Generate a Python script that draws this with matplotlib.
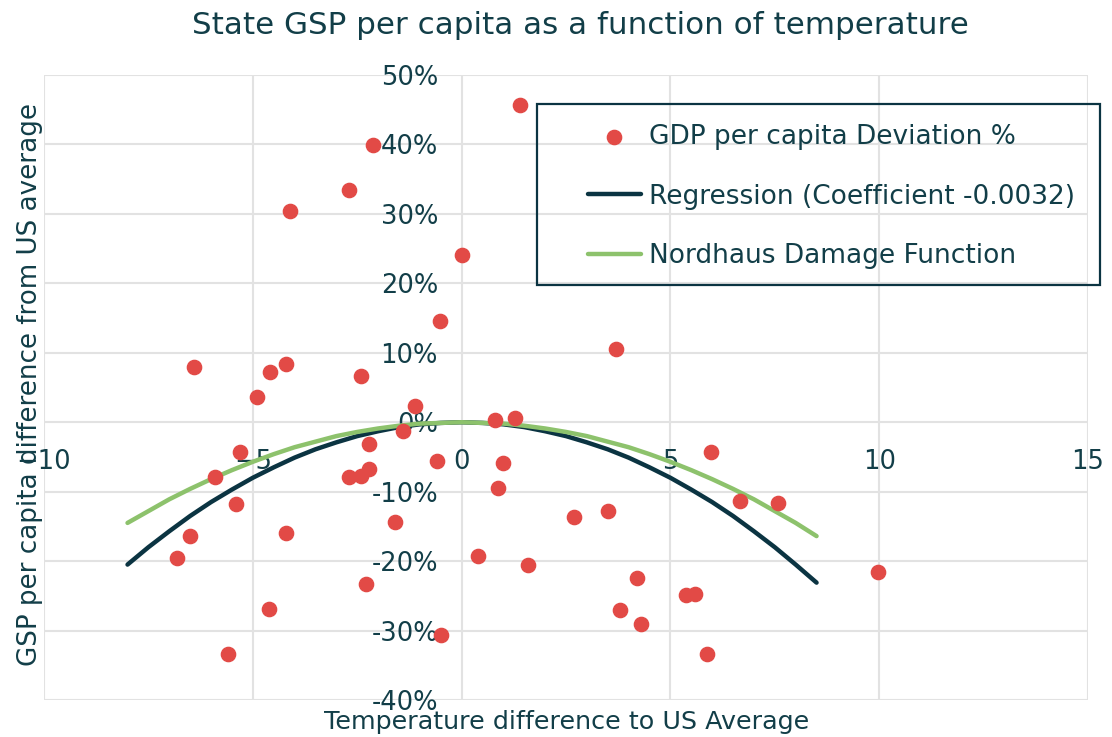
import matplotlib
matplotlib.use("Agg")
import matplotlib.pyplot as plt
from matplotlib.patches import Rectangle
from matplotlib.ticker import FuncFormatter

# state temperature difference vs GSP per capita deviation
temp_diff = [1.40, -2.12, -2.69, -4.10, 0.00, -0.52, 3.69, -6.40, -4.21, -4.60,
             -2.40, -4.90, -1.12, 0.79, 1.29, -1.40, -2.21, -5.31, 5.98, -0.60,
             0.98, -2.21, -5.90, -2.40, -2.69, 0.88, 6.67, 7.57, -5.40, 2.69,
             3.50, -1.60, -4.21, -6.50, -6.81, 0.40, 1.60, 9.98, 4.19, -2.29,
             5.38, 5.60, -4.62, 3.79, 4.29, -0.50, -5.60, 5.88]
gsp_dev = [0.457, 0.399, 0.334, 0.304, 0.241, 0.146, 0.105, 0.079, 0.084, 0.072,
           0.066, 0.036, 0.023, 0.003, 0.006, -0.012, -0.032, -0.043, -0.043, -0.056,
           -0.058, -0.068, -0.079, -0.078, -0.079, -0.094, -0.114, -0.117, -0.118, -0.137,
           -0.128, -0.144, -0.160, -0.164, -0.195, -0.192, -0.206, -0.216, -0.225, -0.233,
           -0.249, -0.248, -0.269, -0.271, -0.290, -0.307, -0.334, -0.334]

# fitted curves
curve_x = [-8, -7.5, -7, -6.5, -6, -5.5, -5, -4.5, -4, -3.5, -3, -2.5, -2, -1.5, -1, -0.5,
           0, 0.5, 1, 1.5, 2, 2.5, 3, 3.5, 4, 4.5, 5, 5.5, 6, 6.5, 7, 7.5, 8, 8.5]
regression_y = [-0.205, -0.180, -0.157, -0.135, -0.115, -0.097, -0.080, -0.065, -0.051,
                -0.039, -0.029, -0.020, -0.013, -0.007, -0.003, -0.001, 0.0,
                -0.001, -0.003, -0.007, -0.013, -0.020, -0.029, -0.039, -0.051, -0.065,
                -0.080, -0.097, -0.115, -0.135, -0.157, -0.180, -0.205, -0.231]
nordhaus_y = [-0.145, -0.128, -0.111, -0.096, -0.082, -0.069, -0.057, -0.046, -0.036,
              -0.028, -0.020, -0.014, -0.009, -0.005, -0.002, -0.001, 0.0,
              -0.001, -0.002, -0.005, -0.009, -0.014, -0.020, -0.028, -0.036, -0.046,
              -0.057, -0.069, -0.082, -0.096, -0.111, -0.128, -0.145, -0.164]

x_ticks = [-10, -5, 0, 5, 10, 15]
y_ticks = [-0.4, -0.3, -0.2, -0.1, 0.0, 0.1, 0.2, 0.3, 0.4, 0.5]

text_col = '#123e48'
W, H = 1112, 737

fig = plt.figure(figsize=(W / 100, H / 100), dpi=100)
ax = fig.add_axes([44 / W, 37 / H, (1088 - 44) / W, (700 - 75) / H])

ax.scatter(temp_diff, gsp_dev, s=105, color='#e24a46', zorder=4,
           label='GDP per capita Deviation %')
ax.plot(curve_x, regression_y, color='#0b3442', lw=3.2, solid_capstyle='round',
        zorder=3, label='Regression (Coefficient -0.0032)')
ax.plot(curve_x, nordhaus_y, color='#8dc26c', lw=3.2, solid_capstyle='round',
        zorder=3, label='Nordhaus Damage Function')

ax.set_xlim(-10, 15)
ax.set_ylim(-0.4, 0.5)
ax.set_xticks(x_ticks)
ax.set_yticks(y_ticks)
ax.yaxis.set_major_formatter(FuncFormatter(lambda v, p: f"{v * 100:.0f}%"))
ax.grid(color='#e2e2e2', lw=1.5)
ax.set_axisbelow(True)
for s in ax.spines.values():
    s.set_visible(False)
ax.spines['left'].set_position(('data', 0))
ax.spines['bottom'].set_position(('data', 0))
ax.tick_params(axis='y', length=0, pad=17, labelsize=18.5, labelcolor=text_col)
ax.tick_params(axis='x', length=0, pad=19, labelsize=18.5, labelcolor=text_col)

fig.text(580 / W, 1 - 26 / H, 'State GSP per capita as a function of temperature',
         ha='center', va='center', fontsize=22.3, color=text_col)
fig.text(567 / W, 1 - 722 / H, 'Temperature difference to US Average',
         ha='center', va='center', fontsize=18.3, color=text_col)
fig.text(30 / W, 1 - 385 / H, 'GSP per capita difference from US average',
         ha='center', va='center', rotation=90, fontsize=18.8, color=text_col)

# legend box
fig.patches.append(Rectangle((537 / W, 1 - 285 / H), (1100 - 537) / W, (285 - 104) / H,
                             transform=fig.transFigure, fill=False,
                             edgecolor='#0b3442', lw=1.6, zorder=5))
leg = ax.legend(loc='upper left', bbox_to_anchor=(588 / W, 1 - 124 / H),
                bbox_transform=fig.transFigure, frameon=False, fontsize=19,
                handlelength=2.0, handletextpad=0.3, labelspacing=1.27,
                borderpad=0, borderaxespad=0)
for t in leg.get_texts():
    t.set_color(text_col)

fig.savefig('out.png', dpi=100)
